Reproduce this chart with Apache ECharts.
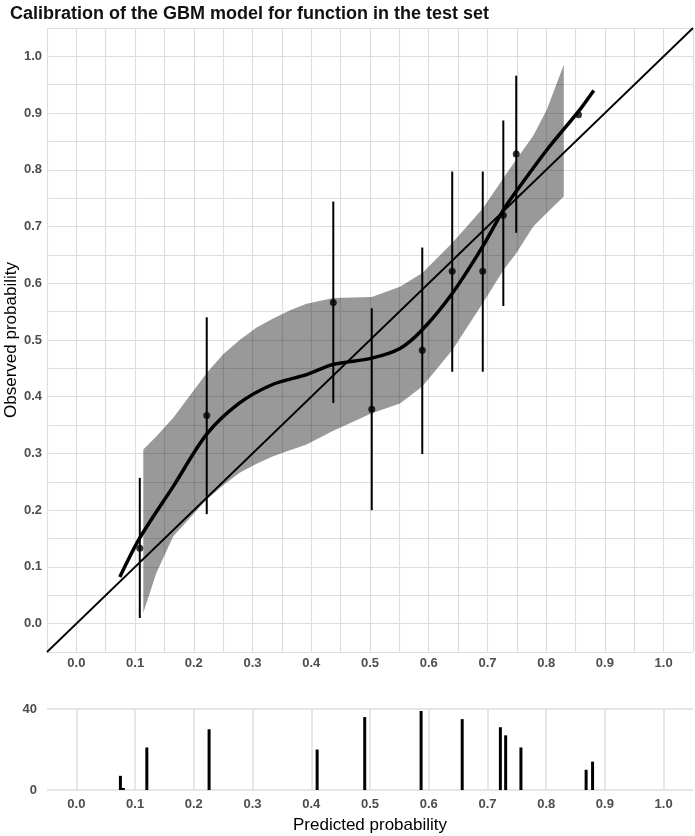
<!DOCTYPE html>
<html>
<head>
<meta charset="utf-8">
<title>Calibration plot</title>
<script src="https://cdn.jsdelivr.net/npm/echarts@6/dist/echarts.min.js"></script>
<style>
  html, body { margin: 0; padding: 0; background: #fff; }
  #chart { width: 695px; height: 836px; }
</style>
</head>
<body>
<div id="chart"></div>
<script>
// grouped observations: predicted (x), observed (y) and the CI of each group
var groupX  = [0.108, 0.222, 0.4375, 0.503, 0.589, 0.640, 0.692, 0.727, 0.749, 0.855];
var groupY  = [0.133, 0.367, 0.566, 0.378, 0.482, 0.621, 0.621, 0.720, 0.828, 0.897];
var groupLo = [0.010, 0.193, 0.389, 0.200, 0.299, 0.444, 0.444, 0.560, 0.689, null];
var groupHi = [0.257, 0.540, 0.744, 0.556, 0.663, 0.797, 0.797, 0.887, 0.966, null];

// smoothed calibration curve
var curveX = [0.074, 0.108, 0.165, 0.222, 0.278, 0.335, 0.392, 0.4375, 0.503, 0.551, 0.589, 0.640, 0.692, 0.727, 0.749, 0.801, 0.855, 0.881];
var curveY = [0.082, 0.151, 0.242, 0.334, 0.389, 0.422, 0.439, 0.457, 0.468, 0.485, 0.518, 0.582, 0.665, 0.729, 0.762, 0.835, 0.903, 0.940];

// confidence band around the curve
var bandX     = [0.114, 0.136, 0.165, 0.222, 0.250, 0.278, 0.307, 0.335, 0.365, 0.392, 0.4375, 0.503, 0.551, 0.589, 0.640, 0.692, 0.727, 0.749, 0.778, 0.801, 0.830];
var bandLower = [0.019, 0.089, 0.154, 0.219, 0.244, 0.266, 0.282, 0.295, 0.306, 0.316, 0.340, 0.371, 0.388, 0.418, 0.482, 0.565, 0.623, 0.653, 0.700, 0.724, 0.753];
var bandUpper = [0.307, 0.330, 0.363, 0.442, 0.475, 0.500, 0.522, 0.538, 0.553, 0.564, 0.574, 0.576, 0.594, 0.618, 0.671, 0.732, 0.785, 0.818, 0.860, 0.906, 0.985];

// distribution of predicted probabilities
var histX     = [0.075, 0.080, 0.120, 0.226, 0.410, 0.491, 0.587, 0.657, 0.722, 0.731, 0.757, 0.868, 0.879];
var histCount = [7, 1, 21, 30, 20, 36, 39, 35, 31, 27, 21, 10, 14];

var diagonal = [-0.05, 1.05];

var chart = echarts.init(document.getElementById('chart'));

var font = 'Liberation Sans, Arial, sans-serif';
var gridColor = '#dedede';

function tenthLabel(v) {
    var r = Math.round(v * 100);
    if (r % 10 !== 0) return '';
    return (r / 100).toFixed(1);
}

var labelStyle = { color: '#4d4d4d', fontSize: 13, fontWeight: 'bold', fontFamily: font };

var option = {
    animation: false,
    backgroundColor: '#fff',
    title: {
        text: 'Calibration of the GBM model for function in the test set',
        left: 5,
        top: 0,
        textStyle: { fontSize: 18, fontWeight: 'bold', color: '#111', fontFamily: font }
    },
    grid: [
        { left: 47, top: 28, width: 646, height: 624, outerBoundsMode: 'none', containLabel: false },
        { left: 47, top: 709, width: 646, height: 81, outerBoundsMode: 'none', containLabel: false }
    ],
    xAxis: [
        {
            type: 'value', gridIndex: 0, min: -0.05, max: 1.05, interval: 0.05,
            axisLine: { show: false }, axisTick: { show: false },
            axisLabel: Object.assign({ interval: 0, margin: 5, formatter: tenthLabel }, labelStyle),
            splitLine: { show: true, lineStyle: { color: gridColor, width: 1.2 } }
        },
        {
            type: 'value', gridIndex: 1, min: -0.05, max: 1.05, splitNumber: 10,
            axisLine: { show: false }, axisTick: { show: false },
            axisLabel: Object.assign({ interval: 0, margin: 8, formatter: tenthLabel,
                showMinLabel: false, showMaxLabel: false }, labelStyle),
            splitLine: { show: true, showMinLine: false, showMaxLine: false,
                lineStyle: { color: gridColor, width: 1.5 } },
            name: 'Predicted probability', nameLocation: 'middle', nameGap: 27,
            nameTextStyle: { fontSize: 17, color: '#000', fontFamily: font }
        }
    ],
    yAxis: [
        {
            type: 'value', gridIndex: 0, min: -0.05, max: 1.05, interval: 0.05,
            axisLine: { show: false }, axisTick: { show: false },
            axisLabel: Object.assign({ interval: 0, margin: 5, formatter: tenthLabel }, labelStyle),
            splitLine: { show: true, lineStyle: { color: gridColor, width: 1.2 } },
            name: 'Observed probability', nameLocation: 'middle', nameGap: 27, nameRotate: 90,
            nameMoveOverlap: false,
            nameTextStyle: { fontSize: 17, color: '#000', fontFamily: font }
        },
        {
            type: 'value', gridIndex: 1, min: 0, max: 40, interval: 40,
            axisLine: { show: false }, axisTick: { show: false },
            axisLabel: Object.assign({ margin: 10 }, labelStyle),
            splitLine: { show: true, lineStyle: { color: gridColor, width: 1.5 } }
        }
    ],
    series: [
        // confidence band drawn as one polygon through the axis scales
        {
            type: 'custom', xAxisIndex: 0, yAxisIndex: 0, silent: true,
            data: [[bandX[0], bandLower[0], bandUpper[0]]],
            encode: { x: 0, y: [1, 2] },
            renderItem: function (params, api) {
                var pts = [];
                for (var i = 0; i < bandX.length; i++) {
                    pts.push(api.coord([bandX[i], bandUpper[i]]));
                }
                for (var j = bandX.length - 1; j >= 0; j--) {
                    pts.push(api.coord([bandX[j], bandLower[j]]));
                }
                return {
                    type: 'polygon',
                    shape: { points: pts },
                    style: { fill: 'rgba(0,0,0,0.4)' }
                };
            }
        },
        {
            type: 'line', xAxisIndex: 0, yAxisIndex: 0, symbol: 'none',
            lineStyle: { color: '#000', width: 1.8 },
            data: [[diagonal[0], diagonal[0]], [diagonal[1], diagonal[1]]]
        },
        {
            type: 'custom', xAxisIndex: 0, yAxisIndex: 0,
            data: groupX.map(function (x, i) { return [x, groupLo[i], groupHi[i]]; })
                .filter(function (d) { return d[1] !== null; }),
            encode: { x: 0, y: [1, 2] },
            renderItem: function (params, api) {
                var lo = api.coord([api.value(0), api.value(1)]);
                var hi = api.coord([api.value(0), api.value(2)]);
                return {
                    type: 'line',
                    shape: { x1: lo[0], y1: lo[1], x2: hi[0], y2: hi[1] },
                    style: { stroke: '#000', lineWidth: 2 }
                };
            }
        },
        {
            type: 'scatter', xAxisIndex: 0, yAxisIndex: 0, symbolSize: 7,
            itemStyle: { color: '#000' },
            data: groupX.map(function (x, i) { return [x, groupY[i]]; })
        },
        {
            type: 'line', xAxisIndex: 0, yAxisIndex: 0, symbol: 'none', smooth: 0.3,
            lineStyle: { color: '#000', width: 3.5 },
            data: curveX.map(function (x, i) { return [x, curveY[i]]; })
        },
        {
            type: 'bar', xAxisIndex: 1, yAxisIndex: 1, barWidth: 3,
            itemStyle: { color: '#000' },
            data: histX.map(function (x, i) { return [x, histCount[i]]; })
        }
    ]
};

chart.setOption(option);
</script>
</body>
</html>
